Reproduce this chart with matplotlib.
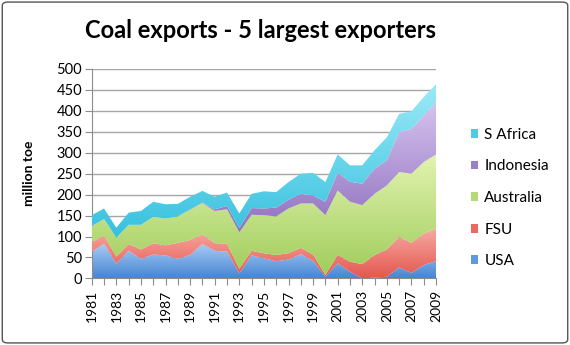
import numpy as np
import matplotlib
matplotlib.use('Agg')
import matplotlib.pyplot as plt
from matplotlib.colors import LinearSegmentedColormap
from matplotlib.patches import Patch, FancyBboxPatch

plt.rcParams['font.family'] = ['Lato', 'DejaVu Sans']

years = list(range(1981, 2010))
# million toe
usa = [63, 83, 35, 66, 47, 57, 55, 47, 56, 82, 66, 64, 12, 55, 48,
       41, 45, 58, 42, 4, 36, 16, 0, 2, 4, 26, 13, 32, 41]
fsu = [24, 19, 17, 16, 22, 27, 24, 38, 36, 23, 18, 19, 11, 11, 12,
       15, 15, 15, 15, 4, 20, 24, 34, 54, 65, 73, 72, 75, 78]
australia = [38, 40, 45, 46, 59, 63, 64, 63, 72, 75, 77, 82, 87, 86, 91,
             92, 107, 106, 122, 143, 154, 143, 141, 146, 153, 155, 165, 171, 177]
indonesia = [0, 0, 0, 0, 0, 0, 0, 0, 1, 1, 4, 8, 10, 16, 16,
             21, 21, 23, 19, 32, 42, 48, 51, 60, 60, 95, 107, 111, 125]
s_africa = [26, 25, 24, 29, 33, 36, 34, 30, 30, 28, 30, 32, 35, 34, 41,
            37, 42, 48, 54, 47, 44, 39, 44, 44, 55, 44, 42, 44, 43]

series = [usa, fsu, australia, indonesia, s_africa]
names = ['USA', 'FSU', 'Australia', 'Indonesia', 'S Africa']
# (top colour, bottom colour) for the Excel-like gradients
grads = [('#a9cbf5', '#4686d4'),
         ('#f7aaa2', '#e3574f'),
         ('#e2f4b0', '#a0cc5c'),
         ('#d6c3ee', '#8c6cbd'),
         ('#9beaf8', '#36c0de')]
legend_cols = ['#5d9be0', '#ea6a62', '#b4da78', '#9b7dc9', '#4ccbe6']

fig = plt.figure(figsize=(5.7, 3.45), dpi=100)
ax = fig.add_axes([0.161, 0.193, 0.604, 0.607])

x = np.array(years, dtype=float)
base = np.zeros(len(years))
grad = np.linspace(0, 1, 256).reshape(-1, 1)
for i, s in enumerate(series):
    top = base + np.array(s)
    poly = ax.fill_between(x, base, top, facecolor='none', edgecolor='none', lw=0)
    cmap = LinearSegmentedColormap.from_list('g%d' % i, [grads[i][1], grads[i][0]])
    im = ax.imshow(grad, cmap=cmap, aspect='auto', origin='lower',
                   extent=[x[0], x[-1], base.min(), top.max()], zorder=2 + i,
                   interpolation='bilinear')
    im.set_clip_path(poly.get_paths()[0], transform=ax.transData)
    base = top

ax.set_xlim(1981, 2009)
ax.set_ylim(0, 500)
ax.set_yticks(range(0, 501, 50))
ax.yaxis.grid(True, color='#a6a6a6', lw=1)
ax.set_axisbelow(True)
ax.set_xticks(years)
ax.set_xticklabels([str(y) if y % 2 == 1 else '' for y in years], rotation=90, fontsize=10)
ax.tick_params(axis='y', labelsize=10.5, length=5, color='#8c8c8c', pad=2)
ax.tick_params(axis='x', length=5, color='#8c8c8c', pad=3)
for sp in ['top', 'right']:
    ax.spines[sp].set_visible(False)
for sp in ['left', 'bottom']:
    ax.spines[sp].set_color('#8c8c8c')
ax.set_ylabel('million toe', fontsize=10, fontweight='bold')
ax.yaxis.set_label_coords(-0.165, 0.5)

fig.text(0.457, 0.913, 'Coal exports - 5 largest exporters', ha='center', va='center',
         fontsize=17, fontweight='bold')

handles = [Patch(facecolor=legend_cols[i], edgecolor='none') for i in range(4, -1, -1)]
labels = [names[i] for i in range(4, -1, -1)]
fig.legend(handles, labels, loc='center left', bbox_to_anchor=(0.815, 0.426),
           frameon=False, fontsize=11, handlelength=0.5, handleheight=0.5,
           handletextpad=0.4, labelspacing=1.15, borderaxespad=0)

border = FancyBboxPatch((0.004, 0.006), 0.992, 0.988, boxstyle='round,pad=0,rounding_size=0.01',
                        transform=fig.transFigure, facecolor='none', edgecolor='#555555', lw=1)
fig.patches.append(border)

fig.savefig('out.png', dpi=100)
